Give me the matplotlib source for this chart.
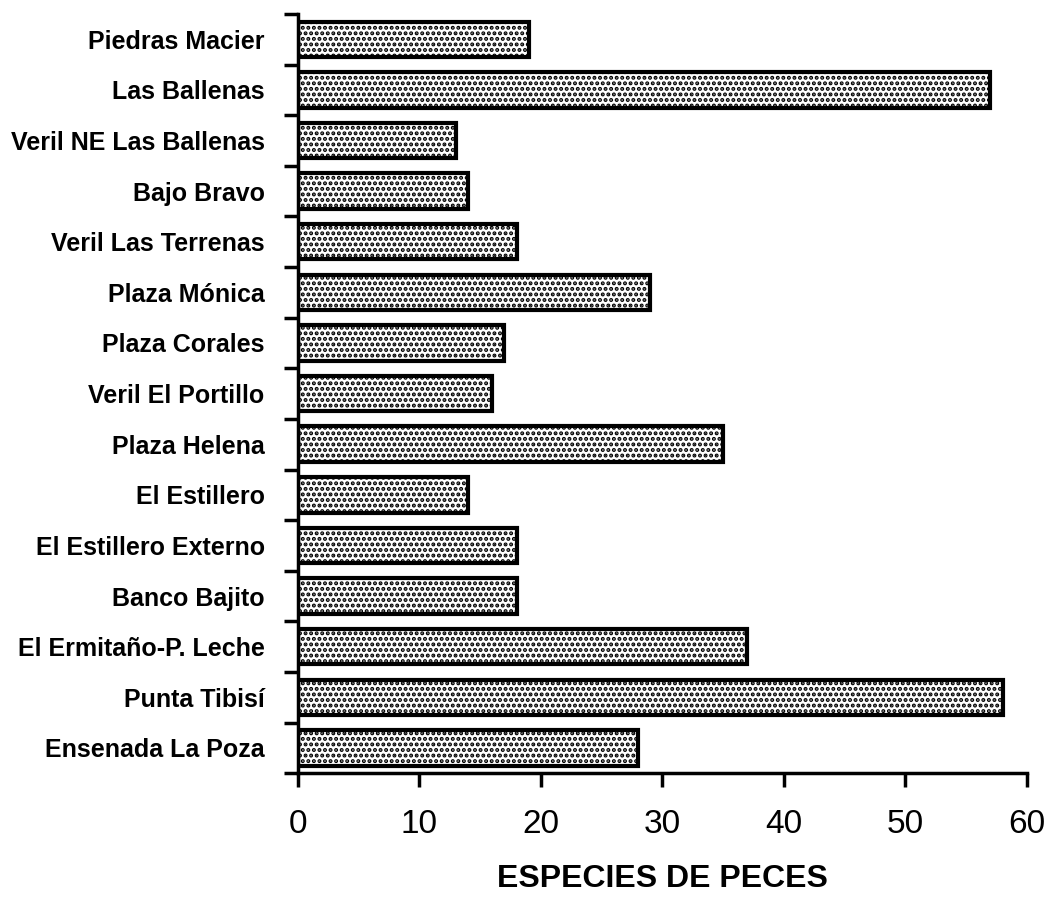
import matplotlib
matplotlib.use("Agg")
import matplotlib.pyplot as plt
import numpy as np

sitios = ['Piedras Macier', 'Las Ballenas', 'Veril NE Las Ballenas', 'Bajo Bravo',
          'Veril Las Terrenas', 'Plaza Mónica', 'Plaza Corales', 'Veril El Portillo',
          'Plaza Helena', 'El Estillero', 'El Estillero Externo', 'Banco Bajito',
          'El Ermitaño-P. Leche', 'Punta Tibisí', 'Ensenada La Poza']
especies = [19, 57, 13, 14, 18, 29, 17, 16, 35, 14, 18, 18, 37, 58, 28]
xticks = [0, 10, 20, 30, 40, 50, 60]

plt.rcParams['hatch.linewidth'] = 2.0
fig = plt.figure(figsize=(10.51, 8.98), dpi=100)
ax = fig.add_axes([0.2835, 0.139, 0.6935, 0.8454])

y = np.arange(len(sitios))
ax.barh(y, especies, height=0.7, color='white', edgecolor='black',
        linewidth=3, hatch='...')

ax.set_ylim(len(sitios) - 0.5, -0.5)
ax.set_xlim(0, 60)

# ticks sit between the bars, labels centred on them
ax.set_yticks(np.arange(len(sitios) + 1) - 0.5)
ax.set_yticklabels([])
ax.set_yticks(y, minor=True)
ax.set_yticklabels(sitios, minor=True, fontsize=18, fontweight='bold',
                   family=['Liberation Sans', 'DejaVu Sans'])
ax.tick_params(axis='y', which='minor', length=0, pad=24)
ax.tick_params(axis='y', which='major', length=10, width=2.5, direction='out')

ax.set_xticks(xticks)
ax.set_xticklabels([str(v) for v in xticks], fontsize=24,
                   family=['Liberation Sans', 'DejaVu Sans'])
ax.tick_params(axis='x', length=10, width=2.5, direction='out', pad=16)

ax.set_xlabel('ESPECIES DE PECES', fontsize=23, fontweight='bold',
              family=['Liberation Sans', 'DejaVu Sans'], labelpad=17)

for s in ['top', 'right']:
    ax.spines[s].set_visible(False)
for s in ['left', 'bottom']:
    ax.spines[s].set_linewidth(2.5)

fig.savefig('out.png', dpi=100)
